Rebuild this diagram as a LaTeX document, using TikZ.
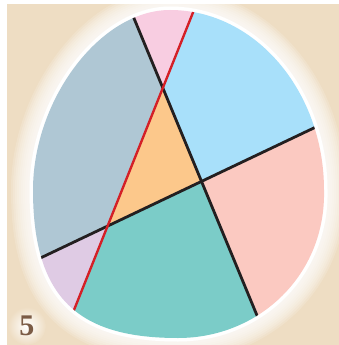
\documentclass[tikz,border=0pt]{standalone}
\usepackage{fontspec}
\setmainfont{Liberation Serif}
\usepackage{xcolor}
\usetikzlibrary{positioning}

\definecolor{beige}{HTML}{EEDDC3}
\definecolor{pinkreg}{HTML}{F8CDE1}
\definecolor{bluereg}{HTML}{A8E0FA}
\definecolor{salmonreg}{HTML}{FBC9C1}
\definecolor{tealreg}{HTML}{7BCCC8}
\definecolor{lavreg}{HTML}{DFCBE4}
\definecolor{greyreg}{HTML}{AFC7D4}
\definecolor{orangereg}{HTML}{FCC88B}
\definecolor{cutred}{HTML}{D42027}
\definecolor{cutblack}{HTML}{231F20}
\definecolor{numbrown}{HTML}{7B5B45}

\begin{document}
\begin{tikzpicture}[
    x=1pt, y=-1pt,
    egg/.style={insert path={(170,10) .. controls (255,10) and (324,91) .. (324,190)
        .. controls (326,275) and (259,338) .. (178,338)
        .. controls (80,338) and (33,300) .. (33,190)
        .. controls (33,100) and (100,10) .. cycle}},
    region/.style={draw=none},
    cut/.style={line width=2.8pt, cutblack},
    redcut/.style={line width=2.4pt, cutred}]
    \useasboundingbox (0,0) rectangle (339,345);
    \fill[white] (0,0) rectangle (339,345);
    \fill[beige] (7,4) rectangle (339,345);
    % soft glow round the egg
    \foreach \w in {44,40,...,8}
        \draw[white, opacity=0.16, line width=\w pt, egg];
    \draw[white, line width=7pt, egg];
    % cut points
    \coordinate (l1a) at (102,-59);
    \coordinate (l1b) at (292,400);
    \coordinate (l2a) at (-50,301);
    \coordinate (l2b) at (400,87);
    \coordinate (l3a) at (222,-60);
    \coordinate (l3b) at (38,400);
    \coordinate (p12) at (202,181);
    \coordinate (p13) at (163,88);
    \coordinate (p23) at (107,226);
    \begin{scope}
        \clip[egg];
        \fill[region, pinkreg] (p13) -- (l1a) -- (l3a) -- cycle;
        \fill[region, bluereg] (p13) -- (l3a) -- (400,-60) -- (l2b) -- (p12) -- cycle;
        \fill[region, salmonreg] (p12) -- (l2b) -- (400,400) -- (l1b) -- cycle;
        \fill[region, tealreg] (p23) -- (p12) -- (l1b) -- (l3b) -- cycle;
        \fill[region, lavreg] (p23) -- (l3b) -- (-50,400) -- (l2a) -- cycle;
        \fill[region, greyreg] (p23) -- (l2a) -- (-50,-60) -- (l1a) -- (p13) -- cycle;
        \fill[region, orangereg] (p13) -- (p12) -- (p23) -- cycle;
        \draw[cut] (l1a) -- (l1b);
        \draw[cut] (l2a) -- (l2b);
        \draw[redcut] (l3a) -- (l3b);
    \end{scope}
    % number badge
    \shade[inner color=white, outer color=beige] (27,326) circle (19pt);
    \node[font=\bfseries\fontsize{30}{30}\selectfont, numbrown] (num) at (27,326) {5};
\end{tikzpicture}
\end{document}
